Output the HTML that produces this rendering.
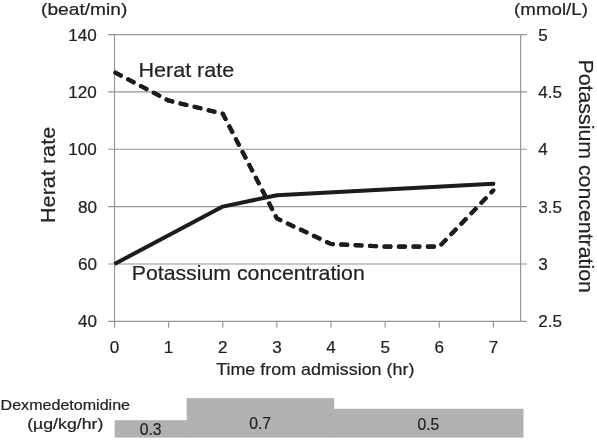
<!DOCTYPE html>
<html><head><meta charset="utf-8">
<title>Heart rate and potassium concentration</title>
<style>
html,body{margin:0;padding:0;background:#fff;}
svg{display:block;will-change:transform;}
text{font-family:"Liberation Sans","DejaVu Sans",sans-serif;fill:#222;stroke:#222;stroke-width:0.2px;}
</style></head>
<body>
<svg width="597" height="440" viewBox="0 0 597 440">
<rect width="597" height="440" fill="#fff"/>
<g stroke="#949494" stroke-width="1.15" fill="none">
<line x1="108" y1="34.60" x2="527" y2="34.60"/>
<line x1="108" y1="91.94" x2="527" y2="91.94"/>
<line x1="108" y1="149.28" x2="527" y2="149.28"/>
<line x1="108" y1="206.62" x2="527" y2="206.62"/>
<line x1="108" y1="263.96" x2="527" y2="263.96"/>
<line x1="108" y1="321.30" x2="527" y2="321.30"/>
<line x1="114.5" y1="34.6" x2="114.5" y2="327.80"/>
<line x1="520.6" y1="34.6" x2="520.6" y2="321.3"/>
<line x1="168.63" y1="321.3" x2="168.63" y2="327.80"/>
<line x1="222.76" y1="321.3" x2="222.76" y2="327.80"/>
<line x1="276.89" y1="321.3" x2="276.89" y2="327.80"/>
<line x1="331.02" y1="321.3" x2="331.02" y2="327.80"/>
<line x1="385.15" y1="321.3" x2="385.15" y2="327.80"/>
<line x1="439.28" y1="321.3" x2="439.28" y2="327.80"/>
<line x1="493.41" y1="321.3" x2="493.41" y2="327.80"/>
</g>
<polyline fill="none" stroke="#1c1c1c" stroke-width="4" stroke-linejoin="round" points="114.5,264.0 222.8,206.6 276.9,195.2 493.4,183.7"/>
<circle cx="493.4" cy="183.7" r="2" fill="#1c1c1c"/>
<polyline fill="none" stroke="#1c1c1c" stroke-width="4.1" stroke-linejoin="round" stroke-dasharray="8.78,5.68" stroke-dashoffset="0.3" points="114.5,72.2 168.6,100.6 222.8,113.7 276.9,218.4 331.0,244.0 385.2,246.6 439.3,246.6 493.4,190.3"/>
<polyline fill="none" stroke="#1c1c1c" stroke-width="4.1" stroke-linejoin="round" stroke-linecap="round" stroke-dasharray="6.48,7.98" stroke-dashoffset="-0.85" points="114.5,72.2 168.6,100.6 222.8,113.7 276.9,218.4 331.0,244.0 385.2,246.6 439.3,246.6 493.4,190.3"/>
<g font-size="16.4">
<text id="t_beat" x="41.1" y="14.7" textLength="86.2" lengthAdjust="spacingAndGlyphs">(beat/min)</text>
<text id="t_mmol" x="514.1" y="14.8" textLength="73.9" lengthAdjust="spacingAndGlyphs">(mmol/L)</text>
<text id="t_time" x="216.2" y="375.3" textLength="198.2" lengthAdjust="spacingAndGlyphs">Time from admission (hr)</text>
</g>
<g font-size="17.1">
<g text-anchor="end">
<text x="96.9" y="40.5">140</text>
<text x="96.9" y="97.8">120</text>
<text x="96.9" y="155.2">100</text>
<text x="96.9" y="212.5">80</text>
<text x="96.9" y="269.9">60</text>
<text x="96.9" y="327.2">40</text>
</g><g>
<text x="538.2" y="40.5">5</text>
<text x="538.2" y="97.8">4.5</text>
<text x="538.2" y="155.2">4</text>
<text x="538.2" y="212.5">3.5</text>
<text x="538.2" y="269.9">3</text>
<text x="538.2" y="327.2">2.5</text>
</g><g text-anchor="middle">
<text x="114.5" y="353">0</text>
<text x="168.6" y="353">1</text>
<text x="222.8" y="353">2</text>
<text x="276.9" y="353">3</text>
<text x="331.0" y="353">4</text>
<text x="385.2" y="353">5</text>
<text x="439.3" y="353">6</text>
<text x="493.4" y="353">7</text>
</g></g>
<g font-size="20.2">
<text id="t_hr" x="138.4" y="77.4" textLength="95.9" lengthAdjust="spacingAndGlyphs">Herat rate</text>
<text id="t_pc" x="131.7" y="279.7" textLength="233.1" lengthAdjust="spacingAndGlyphs">Potassium concentration</text>
<text id="t_hrv" transform="translate(55.2,223) rotate(-90)" textLength="96.2" lengthAdjust="spacingAndGlyphs">Herat rate</text>
<text id="t_pcv" transform="translate(578.6,59.5) rotate(90)" textLength="233.4" lengthAdjust="spacingAndGlyphs">Potassium concentration</text>
</g>
<g fill="#b0b1b3">
<rect x="114.7" y="420.2" width="72.3" height="17.4"/>
<rect x="186.7" y="398.1" width="147.5" height="39.5"/>
<rect x="334" y="408.8" width="189.5" height="28.8"/>
</g>
<g font-size="14.1">
<text id="t_dex" x="0.6" y="409.9" textLength="129.4" lengthAdjust="spacingAndGlyphs">Dexmedetomidine</text>
<text id="t_ug" x="27.2" y="429.4" textLength="76.1" lengthAdjust="spacingAndGlyphs">(µg/kg/hr)</text>
</g>
<g font-size="15.8" text-anchor="middle" style="stroke:none">
<text x="150.7" y="434.8" textLength="21.8" lengthAdjust="spacingAndGlyphs">0.3</text>
<text x="260.1" y="428.7" textLength="21.8" lengthAdjust="spacingAndGlyphs">0.7</text>
<text x="428.4" y="429.5" textLength="21.8" lengthAdjust="spacingAndGlyphs">0.5</text>
</g>
</svg>
</body></html>
